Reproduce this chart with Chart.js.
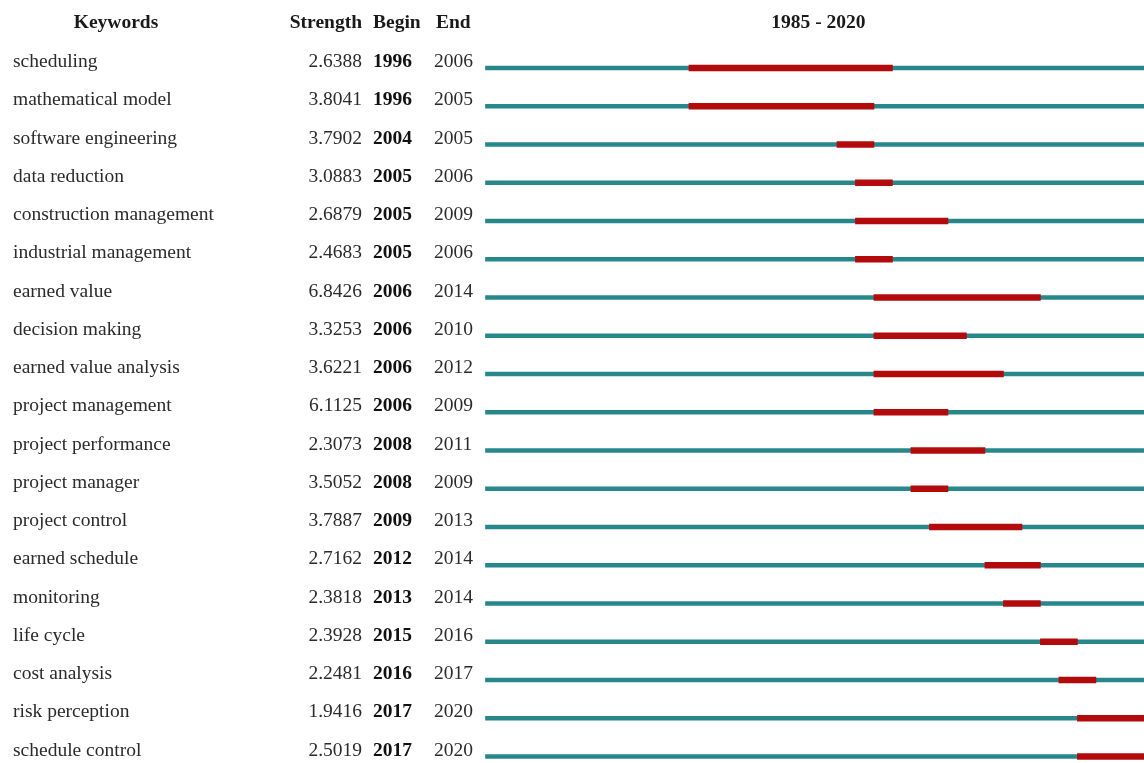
<!DOCTYPE html>
<html>
<head>
<meta charset="utf-8">
<title>Top keywords with the strongest citation bursts</title>
<script src="https://cdn.jsdelivr.net/npm/chart.js@4/dist/chart.umd.min.js"></script>
<style>
  html, body { margin: 0; padding: 0; background: #ffffff; overflow: hidden; }
  canvas { display: block; }
</style>
</head>
<body>
<canvas id="burst" width="1144" height="763"></canvas>
<script>
// Keyword burst table: one row per keyword
const keywords = [
  'scheduling', 'mathematical model', 'software engineering', 'data reduction',
  'construction management', 'industrial management', 'earned value', 'decision making',
  'earned value analysis', 'project management', 'project performance', 'project manager',
  'project control', 'earned schedule', 'monitoring', 'life cycle', 'cost analysis',
  'risk perception', 'schedule control'
];
const strengths = [
  2.6388, 3.8041, 3.7902, 3.0883, 2.6879, 2.4683, 6.8426, 3.3253, 3.6221, 6.1125,
  2.3073, 3.5052, 3.7887, 2.7162, 2.3818, 2.3928, 2.2481, 1.9416, 2.5019
];
const beginYears = [
  1996, 1996, 2004, 2005, 2005, 2005, 2006, 2006, 2006, 2006,
  2008, 2008, 2009, 2012, 2013, 2015, 2016, 2017, 2017
];
const endYears = [
  2006, 2005, 2005, 2006, 2009, 2006, 2014, 2010, 2012, 2009,
  2011, 2009, 2013, 2014, 2014, 2016, 2017, 2020, 2020
];
const timeStart = 1985;
const timeEnd = 2020;
const visibleEnd = 2020.6;   // the window stops a little before the last year's slot ends

const headers = { keyword: 'Keywords', strength: 'Strength', begin: 'Begin', end: 'End' };

const TEAL = '#27878b';
const RED = '#b30b0b';
const SERIF = "'Liberation Serif', 'Times New Roman', serif";
const FONT_PX = 19.5;

// each year occupies one slot: a burst covers begin .. end inclusive
const timelineBars = keywords.map(() => [timeStart, timeEnd + 1]);
const burstBars = beginYears.map((b, i) => [b, endYears[i] + 1]);

const tablePlugin = {
  id: 'burstTable',
  afterDatasetsDraw(chart) {
    const ctx = chart.ctx;
    const xs = chart.scales.x;
    const ys = chart.scales.y;
    ctx.save();
    ctx.textBaseline = 'alphabetic';

    // header row
    const headY = 28;
    ctx.fillStyle = '#1a1a1a';
    ctx.font = `bold ${FONT_PX}px ${SERIF}`;
    ctx.textAlign = 'center';
    ctx.fillText(headers.keyword, 116, headY);
    ctx.textAlign = 'right';
    ctx.fillText(headers.strength, 362, headY);
    ctx.textAlign = 'left';
    ctx.fillText(headers.begin, 373, headY);
    ctx.fillText(headers.end, 436, headY);
    ctx.textAlign = 'center';
    const mid = (xs.getPixelForValue(timeStart) + xs.getPixelForValue(timeEnd + 1)) / 2;
    ctx.fillText(`${timeStart} - ${timeEnd}`, mid, headY);

    // body rows
    keywords.forEach((kw, i) => {
      const y = ys.getPixelForValue(i) - 1;
      ctx.fillStyle = '#2b2b2b';
      ctx.font = `${FONT_PX}px ${SERIF}`;
      ctx.textAlign = 'left';
      ctx.fillText(kw, 13, y);
      ctx.textAlign = 'right';
      ctx.fillText(strengths[i].toFixed(4), 362, y);
      ctx.textAlign = 'left';
      ctx.fillText(String(endYears[i]), 434, y);
      ctx.fillStyle = '#111111';
      ctx.font = `bold ${FONT_PX}px ${SERIF}`;
      ctx.fillText(String(beginYears[i]), 373, y);
    });
    ctx.restore();
  }
};

new Chart(document.getElementById('burst'), {
  type: 'bar',
  data: {
    labels: keywords,
    datasets: [
      {
        label: 'burst',
        data: burstBars,
        backgroundColor: RED,
        barThickness: 6,
        grouped: false,
        clip: false,
        order: 0
      },
      {
        label: 'timeline',
        data: timelineBars,
        backgroundColor: TEAL,
        barThickness: 4,
        grouped: false,
        clip: false,
        order: 1
      }
    ]
  },
  options: {
    indexAxis: 'y',
    responsive: false,
    animation: false,
    layout: { padding: { left: 485.5, right: 0, top: 68, bottom: 6.5 } },
    plugins: {
      legend: { display: false },
      tooltip: { enabled: false },
      title: { display: false }
    },
    scales: {
      x: { type: 'linear', min: timeStart, max: visibleEnd, display: false },
      y: { type: 'category', offset: false, display: false }
    }
  },
  plugins: [tablePlugin]
});
</script>
</body>
</html>
